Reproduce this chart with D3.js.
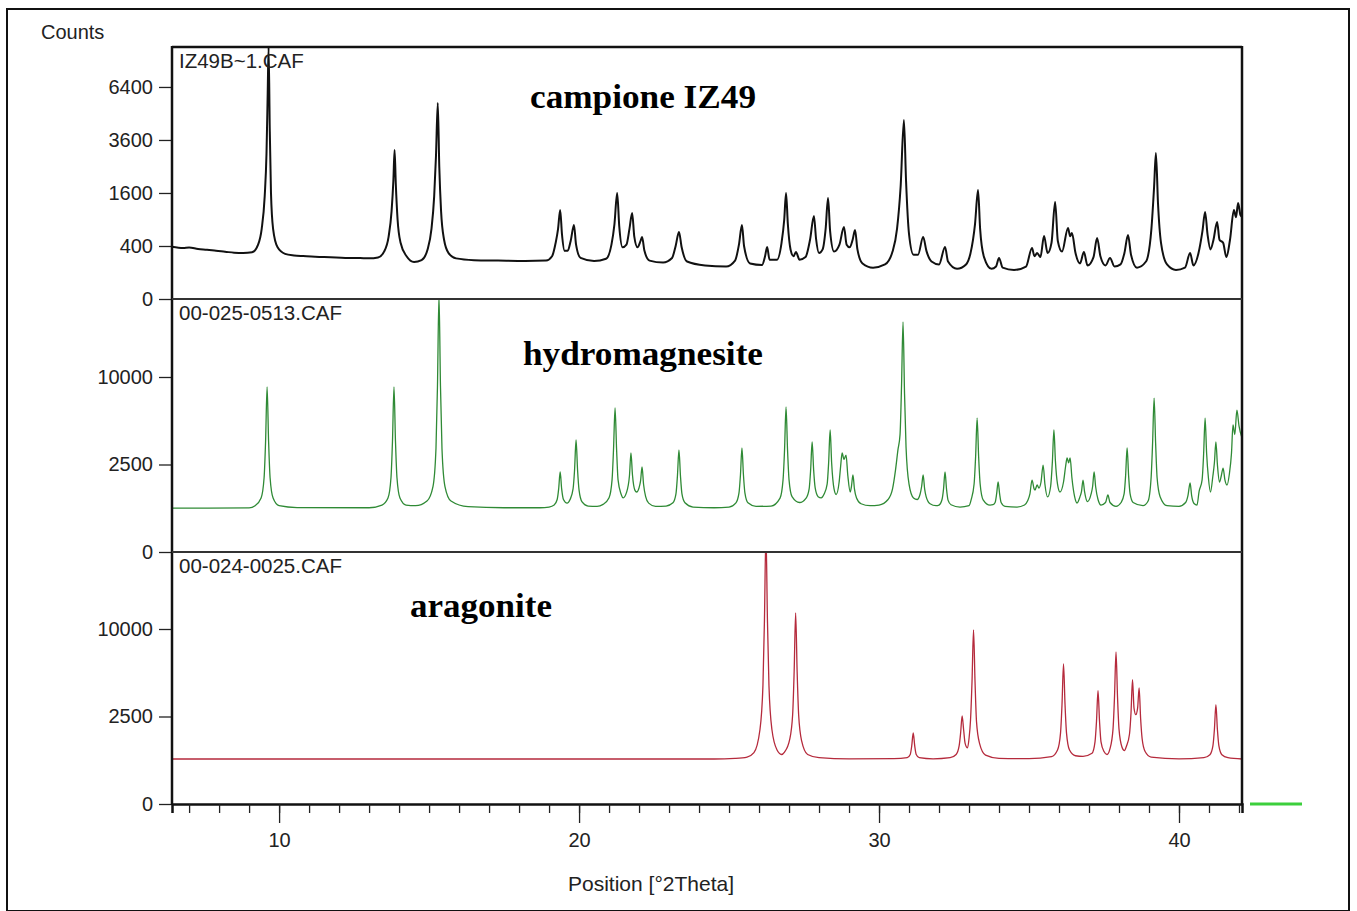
<!DOCTYPE html>
<html><head><meta charset="utf-8">
<script src="https://cdn.jsdelivr.net/npm/d3@7"></script>
<style>body{margin:0;background:#fff}svg{display:block}</style>
</head><body>
<svg id="c" width="1357" height="911"></svg>
<script>
// ---- data ----
const xMajorTicks = [10, 20, 30, 40];
const xMinorTicks = [7,8,9,10,11,12,13,14,15,16,17,18,19,20,21,22,23,24,25,26,27,28,29,30,31,32,33,34,35,36,37,38,39,40,41,42];
const sampleTicks = [0, 400, 1600, 3600, 6400];
const refTicks = [0, 2500, 10000];
const fileNames = ["IZ49B~1.CAF", "00-025-0513.CAF", "00-024-0025.CAF"];
const phaseNames = ["campione IZ49", "hydromagnesite", "aragonite"];

const samplePattern = [[6.43,390],[6.8,372],[7.0,378],[7.3,355],[7.6,345],[7.9,330],[8.2,318],[8.5,305],[8.8,300],[9.1,310],[9.3,420],[9.42,700],[9.52,1500],[9.58,3000],[9.62,6000],[9.65,9000],[9.69,4000],[9.73,1600],[9.8,700],[9.95,380],[10.2,290],[10.5,270],[10.8,262],[11.2,255],[11.5,250],[11.9,246],[12.3,240],[12.7,238],[13.0,235],[13.3,245],[13.5,320],[13.65,550],[13.75,1100],[13.81,2000],[13.85,3160],[13.89,1900],[13.95,900],[14.05,450],[14.25,260],[14.5,195],[14.75,215],[14.95,350],[15.08,700],[15.17,1500],[15.23,2900],[15.29,5470],[15.34,2500],[15.4,1100],[15.5,500],[15.65,300],[15.9,235],[16.5,215],[17.3,210],[18.2,205],[18.9,210],[19.1,260],[19.22,450],[19.3,700],[19.37,1128],[19.43,600],[19.52,330],[19.62,330],[19.72,480],[19.83,780],[19.9,420],[20.05,240],[20.5,205],[20.9,230],[21.08,420],[21.18,800],[21.27,1600],[21.34,750],[21.45,380],[21.58,420],[21.68,700],[21.77,1053],[21.84,560],[21.95,380],[22.05,480],[22.1,547],[22.18,330],[22.35,210],[22.8,190],[23.1,240],[23.22,400],[23.33,639],[23.42,380],[23.6,200],[24.2,160],[24.9,150],[25.2,210],[25.33,420],[25.43,780],[25.5,400],[25.7,180],[26.1,165],[26.2,260],[26.27,385],[26.35,220],[26.6,220],[26.75,450],[26.84,900],[26.9,1600],[26.96,800],[27.05,350],[27.15,260],[27.23,314],[27.35,220],[27.55,250],[27.7,500],[27.83,981],[27.9,520],[28.0,300],[28.12,350],[28.22,700],[28.3,1453],[28.37,650],[28.5,320],[28.68,420],[28.83,738],[28.92,420],[29.02,380],[29.12,500],[29.2,678],[29.28,350],[29.45,180],[29.8,140],[30.2,170],[30.45,320],[30.6,700],[30.72,1800],[30.83,4560],[30.9,2000],[31.0,600],[31.15,280],[31.3,280],[31.47,547],[31.58,330],[31.75,200],[32.0,170],[32.2,385],[32.3,200],[32.6,130],[32.9,170],[33.05,300],[33.2,800],[33.3,1692],[33.37,700],[33.5,250],[33.75,130],[33.9,150],[34.0,239],[34.12,140],[34.5,120],[34.9,150],[35.1,370],[35.18,260],[35.27,300],[35.38,250],[35.5,565],[35.62,300],[35.75,450],[35.87,1340],[35.96,480],[36.1,320],[36.3,718],[36.37,560],[36.43,620],[36.55,300],[36.7,180],[36.83,314],[36.95,160],[37.15,250],[37.27,530],[37.38,260],[37.55,160],[37.7,239],[37.85,150],[38.05,170],[38.18,300],[38.3,583],[38.4,280],[38.6,140],[38.9,200],[39.08,700],[39.17,1800],[39.23,3035],[39.3,1300],[39.4,450],[39.6,170],[39.9,120],[40.2,140],[40.37,300],[40.48,160],[40.65,300],[40.78,650],[40.87,1078],[40.95,600],[41.05,350],[41.15,500],[41.27,844],[41.35,500],[41.47,450],[41.58,250],[41.7,500],[41.83,1128],[41.9,950],[41.97,1312],[42.05,1000],[42.1,957]];

const hydromagnesitePattern = [[6.43,630],[9.0,635],[9.2,700],[9.4,950],[9.5,1800],[9.55,4000],[9.6,8890],[9.65,4000],[9.7,1800],[9.8,950],[10.0,700],[10.6,645],[13.0,640],[13.43,720],[13.63,950],[13.73,1800],[13.78,4000],[13.83,8890],[13.88,4000],[13.93,1800],[14.03,950],[14.23,720],[14.55,700],[14.93,850],[15.13,1400],[15.23,3500],[15.28,9000],[15.33,21500],[15.38,9000],[15.43,3500],[15.53,1400],[15.73,850],[16.3,670],[17.5,640],[18.7,640],[19.0,660],[19.17,720],[19.27,900],[19.32,1300],[19.37,2090],[19.42,1300],[19.48,900],[19.6,780],[19.7,900],[19.8,1300],[19.85,2200],[19.9,4096],[19.95,2200],[20.0,1250],[20.1,820],[20.3,690],[20.6,680],[20.8,740],[21.0,960],[21.1,1700],[21.15,3500],[21.2,6770],[21.25,3500],[21.3,1700],[21.4,1100],[21.47,960],[21.58,1150],[21.68,1900],[21.73,3200],[21.78,1950],[21.86,1250],[21.92,1175],[22.0,1350],[22.05,1650],[22.1,2360],[22.15,1500],[22.22,1000],[22.32,780],[22.55,680],[22.9,690],[23.13,790],[23.23,1100],[23.28,1900],[23.33,3400],[23.38,1900],[23.43,1100],[23.53,790],[23.8,660],[24.5,640],[25.0,660],[25.23,790],[25.33,1130],[25.38,1940],[25.43,3530],[25.48,1940],[25.53,1130],[25.63,790],[25.9,680],[26.4,690],[26.7,950],[26.8,1700],[26.85,3400],[26.9,6870],[26.95,3400],[27.0,1700],[27.1,1000],[27.35,800],[27.57,950],[27.67,1300],[27.72,2200],[27.77,3950],[27.82,2200],[27.87,1350],[27.97,1000],[28.07,960],[28.17,1100],[28.27,1500],[28.32,2600],[28.37,4860],[28.42,2600],[28.5,1300],[28.57,1080],[28.67,1600],[28.72,2400],[28.77,3200],[28.83,2800],[28.9,3070],[28.96,1900],[29.04,1175],[29.08,1400],[29.13,1936],[29.18,1300],[29.25,950],[29.4,760],[29.7,700],[30.0,720],[30.3,900],[30.45,1300],[30.55,2200],[30.63,3400],[30.7,4500],[30.75,9000],[30.8,17270],[30.85,8200],[30.9,3600],[31.0,1500],[31.15,950],[31.27,900],[31.37,1100],[31.42,1400],[31.47,1936],[31.52,1300],[31.57,1000],[31.7,760],[31.9,700],[32.0,720],[32.1,900],[32.15,1290],[32.2,2090],[32.25,1290],[32.3,880],[32.4,730],[32.7,660],[33.0,700],[33.07,890],[33.17,1520],[33.22,2980],[33.27,5860],[33.32,2980],[33.37,1520],[33.47,890],[33.7,720],[33.8,730],[33.87,800],[33.92,1100],[33.97,1600],[34.02,1100],[34.07,800],[34.2,680],[34.6,660],[34.85,720],[34.95,850],[35.03,1100],[35.1,1690],[35.17,1300],[35.2,1255],[35.27,1470],[35.33,1337],[35.4,1600],[35.47,2470],[35.53,1500],[35.62,990],[35.72,1400],[35.78,2700],[35.83,4860],[35.88,2700],[35.95,1500],[36.03,1175],[36.15,1600],[36.22,2400],[36.27,2885],[36.32,2600],[36.37,2885],[36.43,1800],[36.52,1000],[36.6,784],[36.7,1000],[36.75,1200],[36.8,1690],[36.85,1200],[36.95,830],[37.07,1100],[37.12,1400],[37.17,2090],[37.22,1400],[37.3,900],[37.4,720],[37.55,800],[37.63,1060],[37.7,800],[37.9,680],[38.07,800],[38.17,1100],[38.22,1900],[38.27,3530],[38.32,1900],[38.37,1100],[38.47,800],[38.8,700],[38.97,850],[39.07,1800],[39.12,3900],[39.17,7740],[39.22,3900],[39.27,1800],[39.37,1000],[39.6,700],[40.0,680],[40.22,800],[40.3,1050],[40.37,1555],[40.42,1050],[40.5,770],[40.6,720],[40.67,1200],[40.77,1700],[40.82,3100],[40.87,5860],[40.92,3200],[40.98,1800],[41.05,1175],[41.13,1900],[41.18,2600],[41.23,3950],[41.28,2500],[41.35,1600],[41.41,1900],[41.47,2300],[41.53,1700],[41.6,1466],[41.68,2000],[41.75,3200],[41.8,5270],[41.86,4500],[41.93,6580],[42.0,5200],[42.1,4240]];

const aragonitePattern = [[6.43,661],[24.5,661],[25.2,680],[25.6,720],[25.83,860],[26.03,1800],[26.13,4600],[26.18,11000],[26.23,24000],[26.28,11000],[26.33,4600],[26.43,1800],[26.6,950],[26.75,800],[26.85,880],[27.02,1350],[27.12,2600],[27.17,5700],[27.22,11910],[27.27,5700],[27.32,2600],[27.42,1300],[27.62,800],[28.0,700],[29.0,665],[30.5,670],[30.94,700],[31.04,800],[31.09,1100],[31.14,1646],[31.19,1100],[31.24,800],[31.34,700],[31.8,665],[32.37,700],[32.57,800],[32.67,1100],[32.72,1650],[32.77,2530],[32.82,1800],[32.87,1200],[32.95,1030],[33.0,1400],[33.05,2300],[33.1,4900],[33.15,9885],[33.2,4900],[33.25,2200],[33.35,1200],[33.55,780],[34.0,680],[35.0,670],[35.75,730],[35.95,950],[36.05,1640],[36.1,3240],[36.15,6400],[36.2,3240],[36.25,1640],[36.35,950],[36.55,760],[36.8,740],[37.1,840],[37.2,1260],[37.25,2250],[37.3,4190],[37.35,2250],[37.4,1260],[37.5,900],[37.6,800],[37.7,1000],[37.8,1830],[37.85,3760],[37.9,7545],[37.95,3760],[38.0,1830],[38.1,1050],[38.18,930],[38.25,1100],[38.35,1600],[38.4,2700],[38.45,5045],[38.5,3000],[38.56,2604],[38.62,3000],[38.67,4394],[38.72,2400],[38.77,1400],[38.87,900],[39.07,720],[40.0,665],[40.83,700],[41.03,790],[41.13,1100],[41.18,1810],[41.23,3220],[41.28,1810],[41.33,1100],[41.43,790],[41.63,700],[42.1,661]];

// ---- drawing ----
const svg = d3.select("#c");
const sans = "'Liberation Sans', Arial, sans-serif";
const serif = "'Liberation Serif', 'Times New Roman', serif";
const L = 172, R = 1242;

svg.append("rect").attr("x", 7).attr("y", 9).attr("width", 1342).attr("height", 902)
  .attr("fill", "none").attr("stroke", "#111").attr("stroke-width", 2);

const x = d3.scaleLinear().domain([6.43, 42.1]).range([L, R]);

const panels = [
  {data: samplePattern, ticks: sampleTicks, max: 9040, y0: 299, y1: 47, color: "#111", w: 2.0, tx: 643, ty: 108, tl: 226},
  {data: hydromagnesitePattern, ticks: refTicks, max: 20900, y0: 552, y1: 299, color: "#2f8a35", w: 1.3, tx: 643, ty: 365, tl: 240},
  {data: aragonitePattern, ticks: refTicks, max: 20736, y0: 804, y1: 552, color: "#b52a3c", w: 1.3, tx: 481, ty: 617, tl: 142}
];

const defs = svg.append("defs");
panels.forEach((p, i) => {
  const y = d3.scaleSqrt().domain([0, p.max]).range([p.y0, p.y1]);
  defs.append("clipPath").attr("id", "clip" + i).append("rect")
    .attr("x", L).attr("y", p.y1).attr("width", R - L).attr("height", p.y0 - p.y1);

  const line = d3.line().x(d => x(d[0])).y(d => y(d[1])).curve(d3.curveMonotoneX);
  svg.append("path").datum(p.data).attr("d", line).attr("fill", "none")
    .attr("stroke", p.color).attr("stroke-width", p.w).attr("stroke-linejoin", "round")
    .attr("clip-path", `url(#clip${i})`);

  const ax = svg.append("g").attr("transform", `translate(${L},0)`)
    .call(d3.axisLeft(y).tickValues(p.ticks).tickFormat(d3.format("d")).tickSize(13).tickPadding(6));
  ax.select(".domain").remove();
  ax.selectAll(".tick line").attr("stroke", "#222").attr("stroke-width", 1.3);
  ax.selectAll(".tick text").attr("font-family", sans).attr("font-size", 20).attr("fill", "#222");

  svg.append("text").attr("x", 179).attr("y", p.y1 + 21).attr("font-family", sans)
    .attr("font-size", 20.5).attr("fill", "#222").text(fileNames[i]);

  svg.append("text").attr("x", p.tx).attr("y", p.ty).attr("text-anchor", "middle")
    .attr("font-family", serif).attr("font-weight", "bold").attr("font-size", 33)
    .attr("textLength", p.tl).attr("lengthAdjust", "spacingAndGlyphs")
    .attr("fill", "#000").text(phaseNames[i]);
});

// frame
svg.append("line").attr("x1", L).attr("x2", R).attr("y1", 47).attr("y2", 47).attr("stroke", "#111").attr("stroke-width", 2.5);
svg.append("line").attr("x1", R).attr("x2", R).attr("y1", 46).attr("y2", 805).attr("stroke", "#111").attr("stroke-width", 2.5);
svg.append("line").attr("x1", L).attr("x2", L).attr("y1", 46).attr("y2", 805).attr("stroke", "#111").attr("stroke-width", 2.5);
[299, 552].forEach(v => svg.append("line").attr("x1", L).attr("x2", R).attr("y1", v).attr("y2", v)
  .attr("stroke", "#333").attr("stroke-width", 2));

// x axis
const gMinor = svg.append("g").attr("transform", "translate(0,804)")
  .call(d3.axisBottom(x).tickValues(xMinorTicks).tickFormat("").tickSize(9));
gMinor.select(".domain").attr("stroke", "#111").attr("stroke-width", 2.5);
gMinor.selectAll(".tick line").attr("stroke", "#222").attr("stroke-width", 1.3);
const gMajor = svg.append("g").attr("transform", "translate(0,804)")
  .call(d3.axisBottom(x).tickValues(xMajorTicks).tickFormat(d3.format("d")).tickSize(19).tickPadding(10));
gMajor.select(".domain").remove();
gMajor.selectAll(".tick line").attr("stroke", "#222").attr("stroke-width", 1.3);
gMajor.selectAll(".tick text").attr("font-family", sans).attr("font-size", 20).attr("fill", "#222");

svg.append("text").attr("x", 651).attr("y", 891).attr("text-anchor", "middle")
  .attr("font-family", sans).attr("font-size", 21).attr("fill", "#222").text("Position [°2Theta]");
svg.append("text").attr("x", 41).attr("y", 39).attr("font-family", sans)
  .attr("font-size", 20).attr("fill", "#222").text("Counts");

// green marker at the right of the x axis
svg.append("line").attr("x1", 1250).attr("x2", 1302).attr("y1", 804).attr("y2", 804)
  .attr("stroke", "#3ccf3c").attr("stroke-width", 3);
</script>
</body></html>
